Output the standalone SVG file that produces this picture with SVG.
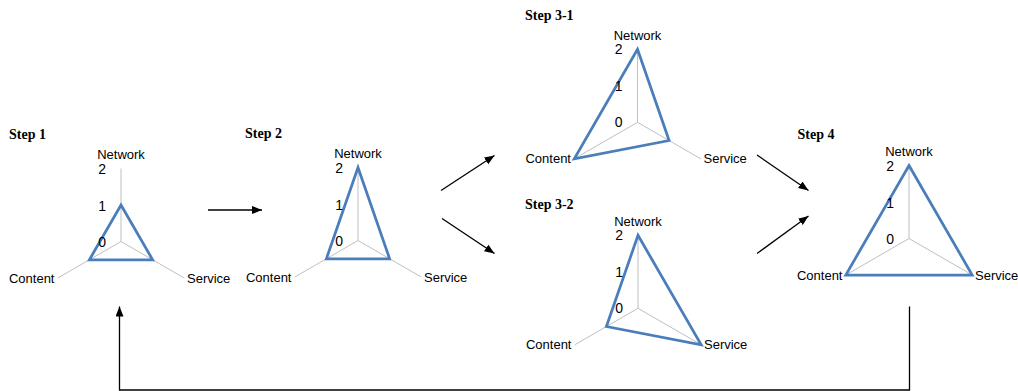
<svg xmlns="http://www.w3.org/2000/svg" width="1018" height="391" viewBox="0 0 1018 391">
<defs>
<style>
.bg{fill:#ffffff}
.axis{stroke:#BFBFBF;stroke-width:1;fill:none}
.val{stroke:#4A7EBB;stroke-width:2.75;fill:none;stroke-linejoin:miter}
.lbl{font-family:"Liberation Sans",Arial,sans-serif;font-size:13px;fill:#000}
.num{font-size:14px}
.end{text-anchor:end}
.mid{text-anchor:middle}
.title{font-family:"Liberation Serif","Times New Roman",serif;font-size:14px;font-weight:bold;fill:#000}
.conn{stroke:#000;stroke-width:1.3;fill:none}
</style>
<marker id="ah" markerUnits="userSpaceOnUse" markerWidth="11" markerHeight="9" refX="10" refY="4" orient="auto">
<path d="M0,0 L10,4 L0,8 z" fill="#000"/>
</marker>
<g id="radar">
<line class="axis" x1="0" y1="0" x2="0" y2="-73"/>
<line class="axis" x1="0" y1="0" x2="-63.22" y2="36.5"/>
<line class="axis" x1="0" y1="0" x2="63.22" y2="36.5"/>
</g>
</defs>
<rect class="bg" x="0" y="0" width="1018" height="391"/>

<g id="step1" transform="translate(121,241.5)">
<use href="#radar"/>
<polygon class="val" points="0,-36.5 31.61,18.25 -31.61,18.25"/>
<text class="lbl mid" x="0" y="-82.5">Network</text>
<text class="lbl num end" x="-15" y="-68">2</text>
<text class="lbl num end" x="-15" y="-31">1</text>
<text class="lbl num end" x="-15" y="5">0</text>
<text class="lbl end" x="-66.5" y="41">Content</text>
<text class="lbl" x="66" y="41">Service</text>
</g>
<text id="t1" class="title" x="9" y="139">Step 1</text>

<g id="step2" transform="translate(358,240.5)">
<use href="#radar"/>
<polygon class="val" points="0,-73 31.61,18.25 -31.61,18.25"/>
<text class="lbl mid" x="0" y="-82.5">Network</text>
<text class="lbl num end" x="-15" y="-68">2</text>
<text class="lbl num end" x="-15" y="-31">1</text>
<text class="lbl num end" x="-15" y="5">0</text>
<text class="lbl end" x="-66.5" y="41">Content</text>
<text class="lbl" x="66" y="41">Service</text>
</g>
<text id="t2" class="title" x="245" y="137.5">Step 2</text>

<g id="step3-1" transform="translate(637.5,122.3)">
<use href="#radar"/>
<polygon class="val" points="0,-73 31.61,18.25 -63.22,36.5"/>
<text class="lbl mid" x="0" y="-82.5">Network</text>
<text class="lbl num end" x="-15" y="-68">2</text>
<text class="lbl num end" x="-15" y="-31">1</text>
<text class="lbl num end" x="-15" y="5">0</text>
<text class="lbl end" x="-66.5" y="41">Content</text>
<text class="lbl" x="66" y="41">Service</text>
</g>
<text id="t31" class="title" x="525" y="20">Step 3-1</text>

<g id="step3-2" transform="translate(638,308.3)">
<use href="#radar"/>
<polygon class="val" points="0,-73 63.22,36.5 -31.61,18.25"/>
<text class="lbl mid" x="0" y="-82.5">Network</text>
<text class="lbl num end" x="-15" y="-68">2</text>
<text class="lbl num end" x="-15" y="-31">1</text>
<text class="lbl num end" x="-15" y="5">0</text>
<text class="lbl end" x="-66.5" y="41">Content</text>
<text class="lbl" x="66" y="41">Service</text>
</g>
<text id="t32" class="title" x="525" y="208.5">Step 3-2</text>

<g id="step4" transform="translate(909,238.5)">
<use href="#radar"/>
<polygon class="val" points="0,-73 63.22,36.5 -63.22,36.5"/>
<text class="lbl mid" x="0" y="-82.5">Network</text>
<text class="lbl num end" x="-15" y="-68">2</text>
<text class="lbl num end" x="-15" y="-31">1</text>
<text class="lbl num end" x="-15" y="5">0</text>
<text class="lbl end" x="-66.5" y="41">Content</text>
<text class="lbl" x="66" y="41">Service</text>
</g>
<text id="t4" class="title" x="797.5" y="138.5">Step 4</text>

<g id="connectors">
<line class="conn" x1="208" y1="210" x2="262" y2="210" marker-end="url(#ah)"/>
<line class="conn" x1="441" y1="190.5" x2="494.5" y2="155.5" marker-end="url(#ah)"/>
<line class="conn" x1="442" y1="218.5" x2="494.5" y2="253.5" marker-end="url(#ah)"/>
<line class="conn" x1="757" y1="155" x2="808.5" y2="190.5" marker-end="url(#ah)"/>
<line class="conn" x1="757" y1="253.5" x2="808.5" y2="216" marker-end="url(#ah)"/>
<path class="conn" d="M909.5,306.5 V390 H119.5 V306.5" marker-end="url(#ah)"/>
</g>
</svg>
